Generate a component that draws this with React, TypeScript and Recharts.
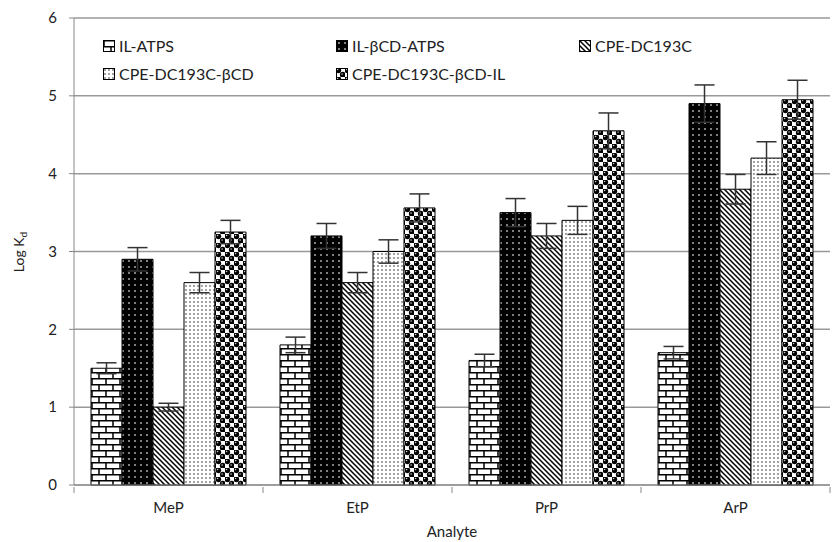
import { BarChart, Bar, XAxis, YAxis, CartesianGrid, ErrorBar } from 'recharts'

const categories = ['MeP', 'EtP', 'PrP', 'ArP']
const seriesNames = ['IL-ATPS', 'IL-βCD-ATPS', 'CPE-DC193C', 'CPE-DC193C-βCD', 'CPE-DC193C-βCD-IL']

const ilAtps = [1.5, 1.8, 1.6, 1.7]
const ilAtpsErr = [0.07, 0.1, 0.08, 0.08]
const ilCdAtps = [2.9, 3.2, 3.5, 4.9]
const ilCdAtpsErr = [0.15, 0.16, 0.18, 0.24]
const cpe = [1.0, 2.6, 3.2, 3.8]
const cpeErr = [0.05, 0.13, 0.16, 0.19]
const cpeCd = [2.6, 3.0, 3.4, 4.2]
const cpeCdErr = [0.13, 0.15, 0.18, 0.21]
const cpeCdIl = [3.25, 3.56, 4.55, 4.95]
const cpeCdIlErr = [0.15, 0.18, 0.23, 0.25]

const yTicks = [0, 1, 2, 3, 4, 5, 6]

const values = [ilAtps, ilCdAtps, cpe, cpeCd, cpeCdIl]
const errors = [ilAtpsErr, ilCdAtpsErr, cpeErr, cpeCdErr, cpeCdIlErr]
const fills = ['url(#brick)', 'url(#dotsBlack)', 'url(#diag)', 'url(#dotsGray)', 'url(#spheres)']

const data = categories.map((name, i) => {
  const row: Record<string, string | number> = { name }
  values.forEach((v, s) => {
    row['s' + s] = v[i]
    row['e' + s] = errors[s][i]
  })
  return row
})

const FONT = 'Lato, "Open Sans", sans-serif'
const PLOT_LEFT = 74
const PLOT_RIGHT = 2
const CHART_W = 832
const catWidth = (CHART_W - PLOT_LEFT - PLOT_RIGHT) / categories.length

function Patterns() {
  return (
    <defs>
      <pattern id="brick" width="14" height="12" patternUnits="userSpaceOnUse">
        <rect width="14" height="12" fill="#fff" />
        <path d="M0,0.75 H14 M0,6.75 H14 M1,0 V6 M8,6 V12" stroke="#000" strokeWidth="1.5" />
      </pattern>
      <pattern id="dotsBlack" width="6" height="6" patternUnits="userSpaceOnUse">
        <rect width="6" height="6" fill="#000" />
        <circle cx="3" cy="3" r="1" fill="#aaa" />
      </pattern>
      <pattern id="diag" width="5" height="5" patternUnits="userSpaceOnUse">
        <rect width="5" height="5" fill="#fff" />
        <path d="M-1,-1 L6,6 M-1,4 L1,6 M4,-1 L6,1" stroke="#000" strokeWidth="1.5" />
      </pattern>
      <pattern id="dotsGray" width="4" height="4" patternUnits="userSpaceOnUse">
        <rect width="4" height="4" fill="#fff" />
        <circle cx="2" cy="2" r="0.9" fill="#777" />
      </pattern>
      <pattern id="spheres" width="9" height="9" patternUnits="userSpaceOnUse">
        <rect width="9" height="9" fill="#fff" />
        <circle cx="2.25" cy="2.25" r="2.9" fill="#000" />
        <circle cx="6.75" cy="6.75" r="2.9" fill="#000" />
        <circle cx="1.6" cy="1.5" r="0.8" fill="#ccc" />
        <circle cx="6.1" cy="6" r="0.8" fill="#ccc" />
      </pattern>
    </defs>
  )
}

function XTick(props: any) {
  const { x, y, payload, index } = props
  const left = x - catWidth / 2
  return (
    <g>
      <line x1={left} y1={y - 6} x2={left} y2={y} stroke="#888" />
      {index === categories.length - 1 && (
        <line x1={x + catWidth / 2} y1={y - 6} x2={x + catWidth / 2} y2={y} stroke="#888" />
      )}
      <text x={x} y={y + 20} textAnchor="middle" fontSize={15} fill="#222" fontFamily={FONT}>
        {payload.value}
      </text>
    </g>
  )
}

function LegendBox() {
  const cols = [0, 233, 476]
  const rows = [0, 28]
  return (
    <div style={{ position: 'absolute', left: 103, top: 36, width: 700, height: 60, fontFamily: FONT, fontSize: 16, color: '#222' }}>
      {seriesNames.map((n, i) => (
        <div key={n} style={{ position: 'absolute', left: cols[i % 3], top: rows[Math.floor(i / 3)], display: 'flex', alignItems: 'center', whiteSpace: 'nowrap' }}>
          <svg width={12} height={12} style={{ marginRight: 4 }}>
            <Patterns />
            <rect x={0.5} y={0.5} width={11} height={11} fill={fills[i]} stroke="#000" />
          </svg>
          {n}
        </div>
      ))}
    </div>
  )
}

export default function App() {
  return (
    <div style={{ position: 'absolute', left: 0, top: 0, width: 832, height: 542, background: '#fff' }}>
      <BarChart
        width={832}
        height={542}
        data={data}
        margin={{ top: 18, right: PLOT_RIGHT, left: 0, bottom: 0 }}
        barCategoryGap="9%"
        barGap={0}
      >
        <Patterns />
        <CartesianGrid vertical={false} stroke="#999" strokeWidth={1.5} />
        <XAxis
          dataKey="name"
          height={57}
          axisLine={{ stroke: '#888' }}
          tickLine={false}
          tick={<XTick />}
          interval={0}
          label={{
            content: () => (
              <text x={PLOT_LEFT + (CHART_W - PLOT_LEFT - PLOT_RIGHT) / 2} y={537} textAnchor="middle" fontSize={15} fill="#222" fontFamily={FONT}>
                Analyte
              </text>
            ),
          }}
        />
        <YAxis
          width={PLOT_LEFT}
          domain={[0, 6]}
          ticks={yTicks}
          interval={0}
          axisLine={{ stroke: '#888' }}
          tickLine={{ stroke: '#888' }}
          tickSize={5}
          tickMargin={12}
          tick={{ fontSize: 15, fill: '#222', fontFamily: FONT }}
          label={{
            content: () => (
              <text x={24} y={252} transform="rotate(-90 24 252)" textAnchor="middle" fontSize={14} fill="#222" fontFamily={FONT}>
                Log K<tspan fontSize={10} dy={3}>d</tspan>
              </text>
            ),
          }}
        />
        {seriesNames.map((n, s) => (
          <Bar key={n} dataKey={'s' + s} name={n} fill={fills[s]} stroke="#000" strokeWidth={1} isAnimationActive={false}>
            <ErrorBar dataKey={'e' + s} width={10} stroke="#333" strokeWidth={1.5} direction="y" />
          </Bar>
        ))}
      </BarChart>
      <LegendBox />
    </div>
  )
}
